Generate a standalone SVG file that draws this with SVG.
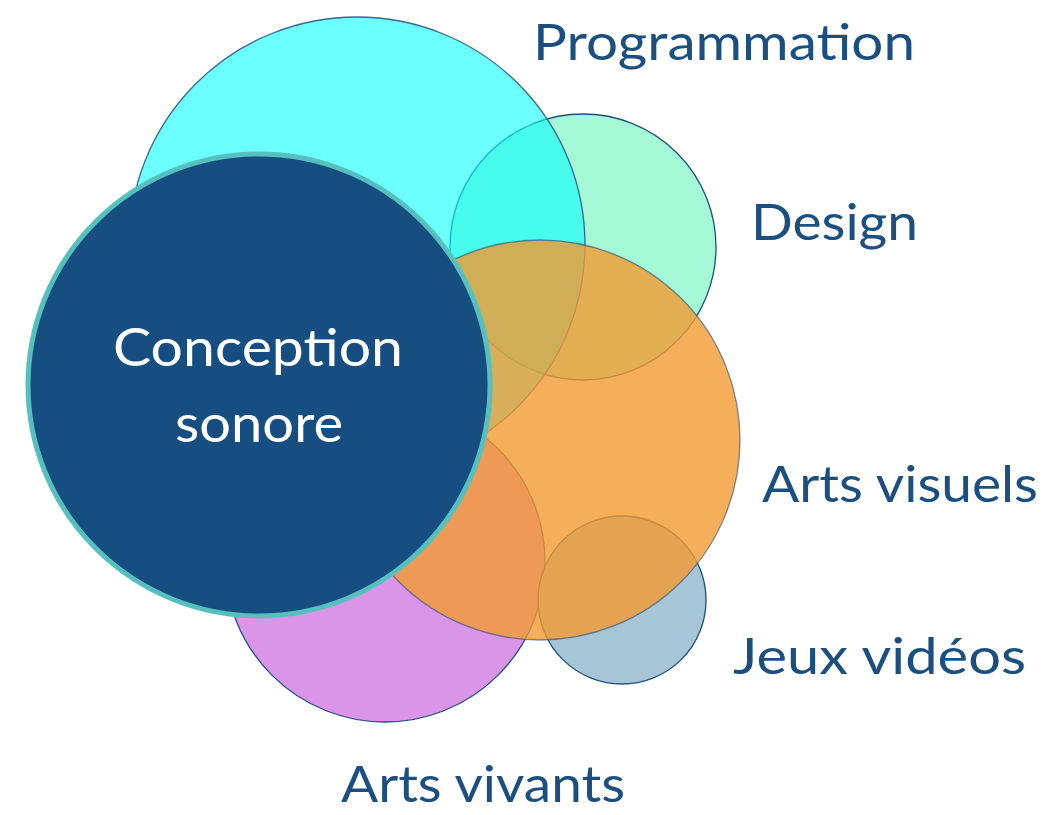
<svg xmlns="http://www.w3.org/2000/svg" width="1063" height="815" viewBox="0 0 1063 815">
<style>
.c{stroke:#1f4f7e;stroke-width:1.3}
.lbl{font-family:Lato,"Open Sans",sans-serif;font-size:50px;fill:#1b4f80}
.in{font-family:Lato,"Open Sans",sans-serif;font-size:53px;fill:#ffffff;text-anchor:middle}
</style>
<rect width="1063" height="815" fill="#ffffff"/>
<g id="design"><circle class="c" cx="583" cy="247" r="133" fill="#a5f8d6"/></g>
<g id="programmation"><circle class="c" cx="357" cy="245" r="228" fill="#08fffc" fill-opacity="0.6" stroke-opacity="0.85"/></g>
<g id="arts-vivants"><circle class="c" cx="385" cy="562" r="160" fill="#da95e8"/></g>
<g id="jeux-videos"><circle class="c" cx="622" cy="600" r="84" fill="#a6c5d6"/></g>
<g id="arts-visuels"><circle class="c" cx="540" cy="440" r="200" fill="#f29a31" fill-opacity="0.8" stroke-opacity="0.6"/></g>
<g id="conception-sonore">
<circle cx="259" cy="385" r="231" fill="#174e82" stroke="#55c0bd" stroke-width="5"/>
<text class="in" x="258" y="366" textLength="290" lengthAdjust="spacingAndGlyphs">Conception</text>
<text class="in" x="259" y="442" textLength="168" lengthAdjust="spacingAndGlyphs">sonore</text>
</g>
<g id="labels">
<text class="lbl" x="533" y="60" textLength="382" lengthAdjust="spacingAndGlyphs">Programmation</text>
<text class="lbl" x="751" y="240" textLength="167" lengthAdjust="spacingAndGlyphs">Design</text>
<text class="lbl" x="762" y="502" textLength="276" lengthAdjust="spacingAndGlyphs">Arts visuels</text>
<text class="lbl" x="733" y="674" textLength="293" lengthAdjust="spacingAndGlyphs">Jeux vidéos</text>
<text class="lbl" x="341" y="802" textLength="284" lengthAdjust="spacingAndGlyphs">Arts vivants</text>
</g>
<g id="connectors"></g>
</svg>
